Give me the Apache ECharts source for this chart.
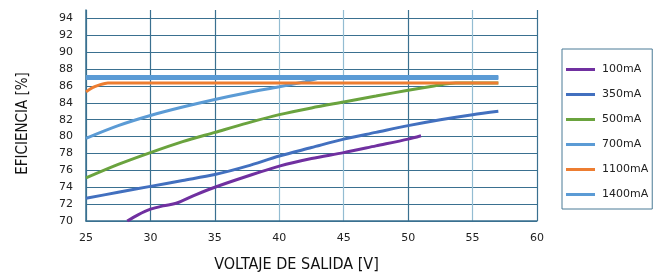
<!DOCTYPE html>
<html>
<head>
<meta charset="utf-8">
<script src="https://cdn.jsdelivr.net/npm/echarts@6/dist/echarts.min.js"></script>
<style>
  html, body { margin: 0; padding: 0; background: #fff; }
  #chart { width: 666px; height: 278px; }
</style>
</head>
<body>
<div id="chart"></div>
<script>
// Curvas de eficiencia - [voltaje, eficiencia]
const seriesNames = ['100mA', '350mA', '500mA', '700mA', '1100mA', '1400mA'];
const data100 = [[28.2, 70], [29, 70.7], [30, 71.4], [31, 71.8], [32, 72.1], [33.5, 73.1], [35, 74], [37.5, 75.3], [40, 76.5], [42.5, 77.4], [45, 78.1], [47.5, 78.9], [50, 79.7], [51, 80.1]];
const data350 = [[25, 72.7], [27.5, 73.4], [30, 74.1], [32.5, 74.8], [35, 75.5], [37.5, 76.5], [40, 77.7], [42.5, 78.7], [45, 79.7], [47.5, 80.5], [50, 81.3], [52.5, 82], [55, 82.6], [57, 83]];
const data500 = [[25, 75.1], [27.5, 76.7], [30, 78.1], [32.5, 79.4], [35, 80.5], [37.5, 81.6], [40, 82.6], [42.5, 83.4], [45, 84.1], [47.5, 84.8], [50, 85.5], [52, 86], [53.7, 86.35], [57, 86.35]];
const data700 = [[25, 79.8], [27.5, 81.3], [30, 82.5], [32.5, 83.5], [35, 84.4], [37.5, 85.2], [40, 85.9], [42, 86.5], [43.5, 87], [57, 87]];
const data1100 = [[25, 85.3], [25.5, 85.8], [26, 86.1], [26.7, 86.35], [28, 86.35], [57, 86.35]];
const data1400 = [[25, 87], [57, 87]];
const xTicks = { min: 25, max: 60, interval: 5 };
const yTicks = { min: 70, max: 95, interval: 2 };

const colors = ['#7030a0', '#4270bf', '#6aa33e', '#5b9bd5', '#ed7d31', '#5b9bd5'];
const widths = [3, 3, 3, 3, 3, 5];
const allData = [data100, data350, data500, data700, data1100, data1400];

const fontFamily = '"DejaVu Sans", sans-serif';
const titleFont = '"DejaVu Sans Condensed", "DejaVu Sans", sans-serif';
const dark = '#3a7090';
const light = '#93bcd2';

const chart = echarts.init(document.getElementById('chart'), null, { renderer: 'canvas' });

const series = seriesNames.map((name, i) => ({
    name,
    type: 'line',
    smooth: 0.3,
    data: allData[i],
    symbol: 'none',
    z: i === 5 ? 1 : 2 + i,
    lineStyle: { width: widths[i], color: colors[i] },
    itemStyle: { color: colors[i] }
}));

// La curva 700mA queda debajo de la 1400mA
series[3].z = 0;

chart.setOption({
    animation: false,
    backgroundColor: '#fff',
    grid: { left: 86, right: 129, top: 10, bottom: 56, containLabel: false },
    legend: {
        data: seriesNames,
        orient: 'vertical',
        left: 562,
        top: 49,
        padding: [13, 4, 7, 4],
        itemWidth: 29,
        itemHeight: 3,
        itemGap: 10,
        icon: 'rect',
        borderColor: '#4a7a96',
        borderWidth: 1,
        borderRadius: 0,
        textStyle: { fontFamily, fontSize: 11, color: '#222', lineHeight: 15, padding: [0, 0, 0, 2] }
    },
    xAxis: {
        type: 'value',
        min: xTicks.min, max: xTicks.max, interval: xTicks.interval,
        name: 'VOLTAJE DE SALIDA [V]',
        nameLocation: 'middle',
        nameGap: 36,
        nameTextStyle: { fontFamily: titleFont, fontSize: 16, color: '#111', padding: [0, 30, 0, 0] },
        axisLine: { show: true, lineStyle: { color: dark, width: 1.5 } },
        axisTick: { show: false },
        axisLabel: { fontFamily, fontSize: 11, color: '#222', margin: 12 },
        splitLine: { show: true, lineStyle: { color: [dark, dark, dark, light, light, dark, light, dark], width: 1.2 } }
    },
    yAxis: {
        type: 'value',
        min: yTicks.min, max: yTicks.max, interval: yTicks.interval,
        name: 'EFICIENCIA [%]',
        nameLocation: 'middle',
        nameGap: 55,
        nameRotate: 90,
        nameTextStyle: { fontFamily: titleFont, fontSize: 15, color: '#111', padding: [0, 16, 0, 0] },
        axisLine: { show: true, lineStyle: { color: dark, width: 1.5 } },
        axisTick: { show: false },
        axisLabel: { fontFamily, fontSize: 11, color: '#222', margin: 13, showMaxLabel: false },
        splitLine: { show: true, lineStyle: { color: [dark, dark, dark, dark, dark, dark, dark, dark, dark, dark, dark, dark, dark, 'transparent'], width: 1 } }
    },
    series
});
</script>
</body>
</html>
